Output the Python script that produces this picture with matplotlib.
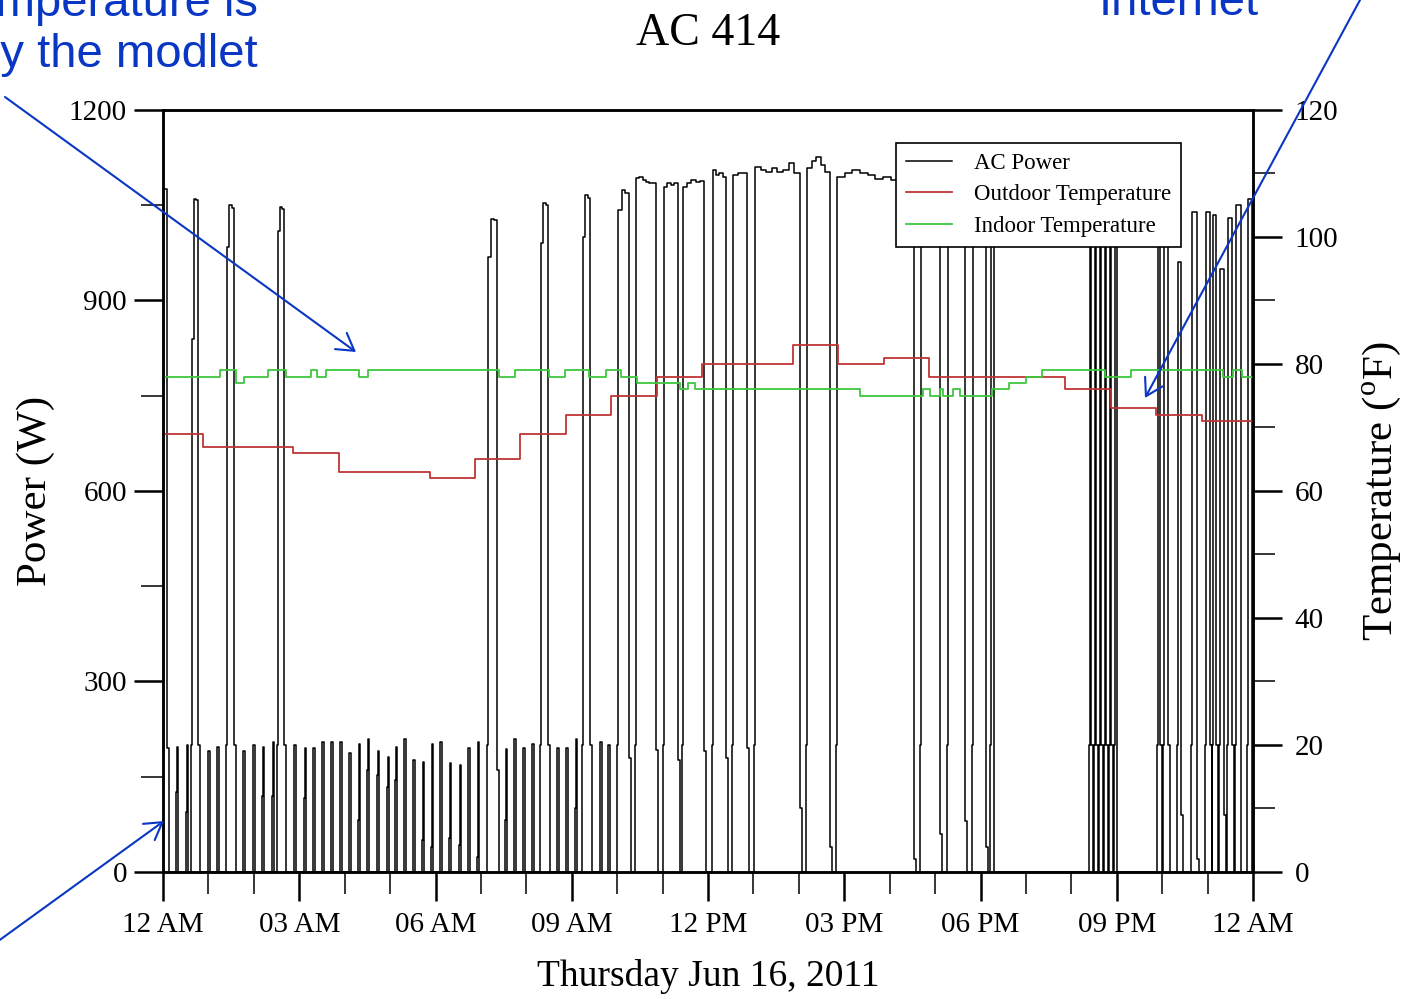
import matplotlib.pyplot as plt
from matplotlib.lines import Line2D
from matplotlib.ticker import MultipleLocator

plt.rcParams['font.family'] = 'Liberation Serif'
plt.rcParams['mathtext.fontset'] = 'custom'
plt.rcParams['mathtext.rm'] = 'Liberation Serif'

# x axis: hours since midnight
hour_ticks = [0, 3, 6, 9, 12, 15, 18, 21, 24]
hour_labels = ['12 AM', '03 AM', '06 AM', '09 AM', '12 PM',
               '03 PM', '06 PM', '09 PM', '12 AM']

# short fan pulses during the night: start hour, peak W, lower step W (0 = none)
fan_hours = [0.29, 0.51, 0.99, 1.19, 1.76, 1.98, 2.18, 2.40,
             2.88, 3.11, 3.30, 3.50, 3.70, 3.90, 4.10, 4.29,
             4.49, 4.71, 4.93, 5.11, 5.31, 5.51, 5.70, 5.90,
             6.10, 6.30, 6.52, 6.72, 6.91,
             7.53, 7.73, 7.93, 8.13,
             8.68, 8.87, 9.07, 9.62, 9.80]
fan_watts = [197, 200, 191, 197, 191, 200, 197, 205,
             200, 195, 196, 205, 205, 205, 188, 202,
             210, 191, 181, 197, 210, 176, 174, 202,
             205, 171, 168, 196, 205,
             194, 210, 196, 202,
             196, 196, 210, 205, 200]
fan_step = [126, 95, 0, 0, 0, 0, 119, 119,
            100, 116, 0, 0, 0, 0, 0, 82,
            161, 153, 134, 145, 0, 0, 50, 40,
            0, 53, 42, 0, 24,
            82, 0, 0, 0,
            0, 0, 100, 0, 0]

# compressor runs: on / off hour, power levels through the run, W just after switch-off
run_on = [0.0, 0.617, 1.387, 2.510, 7.134, 8.301, 9.226, 9.996,
          10.393, 11.009, 11.427, 12.088, 12.528, 13.013, 14.158, 14.818,
          16.668, 17.262, 17.813, 18.209,
          20.389, 20.499, 20.609, 20.719, 20.829, 20.939,
          21.886, 22.018, 22.326, 22.634, 22.943, 23.097, 23.251, 23.427,
          23.603, 23.867]
run_off = [0.088, 0.771, 1.563, 2.664, 7.354, 8.477, 9.402, 10.261,
           10.855, 11.339, 11.912, 12.396, 12.859, 14.025, 14.686, 16.536,
           17.108, 17.659, 18.121, 18.297,
           20.433, 20.543, 20.653, 20.763, 20.873, 21.005,
           21.952, 22.128, 22.414, 22.767, 23.053, 23.185, 23.361, 23.537,
           23.735, 23.977]
run_levels = [[1075], [840, 1060, 1058], [985, 1050, 1046], [1010, 1047, 1044],
              [968, 1028, 1026], [990, 1053, 1050], [1000, 1066, 1062],
              [1042, 1074, 1070],
              [1093, 1095, 1090, 1087, 1085, 1085],
              [1079, 1085, 1082, 1085],
              [1079, 1085, 1090, 1087, 1088],
              [1106, 1098, 1100, 1095],
              [1098, 1100, 1100],
              [1111, 1106, 1103, 1108, 1103, 1106, 1116, 1100],
              [1108, 1119, 1126, 1113, 1103],
              [1095, 1100, 1106, 1100, 1098, 1092, 1095, 1090, 1090, 1090],
              [1090], [1090], [1090], [1060],
              [1040], [1040], [1040], [1040], [1040], [1040],
              [1040], [1040], [960], [1040], [1040], [1035], [950], [1030],
              [1050], [1060]]
run_tail = [195, 200, 200, 200, 160, 200, 200, 180,
            192, 176, 190, 180, 195, 100, 40, 20,
            60, 80, 40, 0,
            200, 200, 200, 200, 200, 0,
            200, 200, 90, 20, 200, 200, 90, 200,
            0, 0]

# outdoor temperature (hourly feed) and indoor temperature (modlet sensor), deg F
outdoor_hours = [0, 0.87, 2.87, 3.87, 5.87, 6.87, 7.87, 8.87, 9.87, 10.87,
                 11.87, 13.87, 14.87, 15.87, 16.87, 19.87, 20.87, 21.87, 22.87]
outdoor_temp = [69, 67, 66, 63, 62, 65, 69, 72, 75, 78,
                80, 83, 80, 81, 78, 76, 73, 72, 71]
indoor_hours = [0, 1.26, 1.61, 1.78, 2.31, 2.71, 3.26, 3.39, 3.59, 4.32, 4.51,
                7.40, 7.75, 8.50, 8.85, 9.38, 9.75, 10.09,
                10.44, 11.38, 11.56, 11.71,
                15.35, 16.73, 16.89, 17.11, 17.17, 17.39, 17.55,
                18.25, 18.63, 19.00, 19.35,
                20.74, 21.31, 23.34, 23.56, 23.76]
indoor_temp = [78, 79, 77, 78, 79, 78, 79, 78, 79, 78, 79,
               78, 79, 78, 79, 78, 79, 78,
               77, 76, 77, 76,
               75, 76, 75, 76, 75, 76, 75,
               76, 77, 78, 79,
               78, 79, 78, 79, 78]

# build the step trace of AC power
pts = []
for t, w, s in zip(fan_hours, fan_watts, fan_step):
    if s:
        pts += [(t, s), (t + 0.015, w)]
    else:
        pts.append((t, w))
    pts.append((t + 0.04, 0))
for on, off, levels, tail in zip(run_on, run_off, run_levels, run_tail):
    start = on
    if on > 0:
        pts.append((on, 200))
        start = on + 0.02
    dt = (off - start) / len(levels)
    for i, w in enumerate(levels):
        pts.append((start + i * dt, w))
    pts += [(off, tail), (off + 0.04, 0)]
pts.append((24, 0))
pts.sort()
t_ac = [p[0] for p in pts]
p_ac = [p[1] for p in pts]

red = '#c03434'
green = '#3ec83e'
blue = '#0a36c4'

fig = plt.figure(figsize=(14.07, 9.99), dpi=100)
ax = fig.add_axes([0.11585, 0.12713, 0.77470, 0.76276])
ax2 = ax.twinx()

ax.step(t_ac, p_ac, where='post', color='black', lw=1.1)
ax2.step(outdoor_hours + [24], outdoor_temp + [outdoor_temp[-1]], where='post',
         color=red, lw=1.3)
ax2.step(indoor_hours + [24], indoor_temp + [indoor_temp[-1]], where='post',
         color=green, lw=1.3)

ax.set_xlim(0, 24)
ax.set_ylim(0, 1200)
ax2.set_ylim(0, 120)
ax.set_xticks(hour_ticks)
ax.set_xticklabels(hour_labels)
ax.xaxis.set_minor_locator(MultipleLocator(1))
ax.yaxis.set_major_locator(MultipleLocator(300))
ax.yaxis.set_minor_locator(MultipleLocator(150))
ax2.yaxis.set_major_locator(MultipleLocator(20))
ax2.yaxis.set_minor_locator(MultipleLocator(10))

for a in (ax, ax2):
    for sp in a.spines.values():
        sp.set_linewidth(1.8)
ax.tick_params(axis='both', which='major', direction='out', length=21, width=1.8,
               labelsize=21)
ax.tick_params(axis='both', which='minor', direction='out', length=16, width=1.1)
ax.tick_params(axis='x', which='major', pad=8)
ax.tick_params(axis='y', which='major', pad=5)
ax2.tick_params(axis='y', which='major', direction='out', length=21, width=1.8,
                labelsize=21, pad=9)
ax2.tick_params(axis='y', which='minor', direction='out', length=16, width=1.1)

ax.set_title('AC 414', fontsize=33, pad=47)
ax.set_xlabel('Thursday Jun 16, 2011', fontsize=27, labelpad=15)
ax.set_ylabel('Power (W)', fontsize=31, labelpad=10)
ax2.set_ylabel(r'Temperature ($^{\mathrm{o}}$F)', fontsize=31, labelpad=16)

handles = [Line2D([], [], color='black', lw=1.1),
           Line2D([], [], color=red, lw=1.3),
           Line2D([], [], color=green, lw=1.3)]
leg = ax2.legend(handles, ['AC Power', 'Outdoor Temperature', 'Indoor Temperature'],
                 loc='upper right', bbox_to_anchor=(0.934, 0.957), fontsize=16.5,
                 fancybox=False, framealpha=1, edgecolor='black',
                 handlelength=2.0, handletextpad=0.95, labelspacing=0.45,
                 borderpad=0.45, borderaxespad=0)
leg.get_frame().set_linewidth(1.2)

# callout notes
fig.text(258 / 1407, 1 - 77 / 999, 'Indoor temperature is\nmeasured by the modlet',
         ha='right', va='bottom', multialignment='right', color=blue,
         fontsize=34, family='Liberation Sans')
fig.text(1179 / 1407, 1 - 25 / 999, 'Outdoor temperature is from the\nInternet',
         ha='center', va='bottom', multialignment='center', color=blue,
         fontsize=34, family='Liberation Sans')

arrow = dict(arrowstyle='->, head_length=0.6, head_width=0.36', color=blue,
             lw=1.5, mutation_scale=20, shrinkA=0, shrinkB=0)
for tip, tail in [((356, 647), (5, 902)),
                  ((1145, 601), (1380, 1036)),
                  ((164, 178), (-10, 52))]:
    ax2.annotate('', xy=tip, xycoords='figure pixels', xytext=tail,
                 textcoords='figure pixels', arrowprops=arrow,
                 annotation_clip=False)

fig.savefig('out.png', dpi=100)
